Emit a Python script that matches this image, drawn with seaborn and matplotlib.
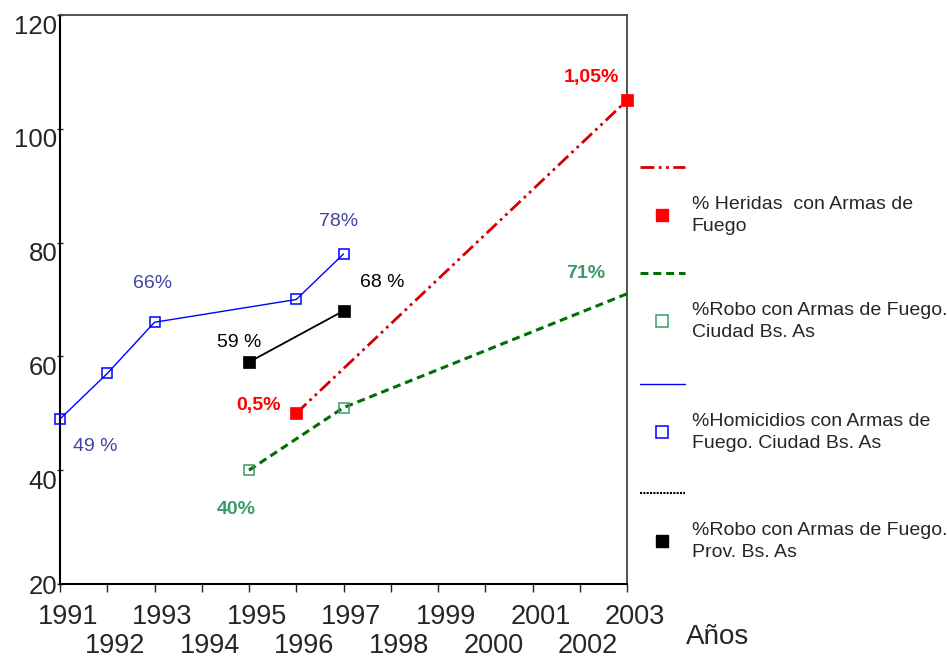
import matplotlib
matplotlib.use('Agg')
import matplotlib.pyplot as plt
import matplotlib.transforms as mtransforms
from matplotlib.lines import Line2D
import seaborn as sns

# Values
odd_years = [1991, 1993, 1995, 1997, 1999, 2001, 2003]
even_years = [1992, 1994, 1996, 1998, 2000, 2002]

homicidios_years = [1991, 1992, 1993, 1996, 1997]
homicidios_vals = [49, 57, 66, 70, 78]

robo_prov_years = [1995, 1997]
robo_prov_vals = [59, 68]

heridas_years = [1996, 2003]
heridas_vals = [50, 105]

robo_ciudad_years = [1995, 1997, 2003]
robo_ciudad_vals = [40, 51, 71]

yticks = [20, 40, 60, 80, 100, 120]

legend_labels = [
    '% Heridas  con Armas de\nFuego',
    '%Robo con Armas de Fuego.\nCiudad Bs. As',
    '%Homicidios con Armas de\nFuego. Ciudad Bs. As',
    '%Robo con Armas de Fuego.\nProv. Bs. As',
]

sns.set_style('white')
plt.rcParams['font.family'] = ['Liberation Sans', 'DejaVu Sans']

fig = plt.figure(figsize=(9.47, 6.62), dpi=100)
ax = fig.add_axes([60 / 947, 78 / 662, 567 / 947, 569 / 662])

BLUE = '#0000ff'
BLUE_TXT = '#4343a3'
RED = '#ff0000'
RED_LINE = '#d40000'
GREEN_LINE = '#006e00'
GREEN = '#3a9a68'

# Lines
sns.lineplot(x=homicidios_years, y=homicidios_vals, ax=ax, color=BLUE, linewidth=1.0,
             marker='s', markersize=7.5, markerfacecolor='none', markeredgecolor=BLUE,
             markeredgewidth=1.1, clip_on=False, zorder=3)
sns.lineplot(x=robo_prov_years, y=robo_prov_vals, ax=ax, color='black', linewidth=1.3,
             marker='s', markersize=8, markerfacecolor='black', markeredgecolor='black',
             markeredgewidth=0.5, clip_on=False, zorder=3)
sns.lineplot(x=heridas_years, y=heridas_vals, ax=ax, color=RED_LINE, linewidth=2.0,
             linestyle=(0, (5, 1.6, 1, 1.6, 1, 1.6)),
             marker='s', markersize=8.5, markerfacecolor=RED, markeredgecolor=RED,
             markeredgewidth=0.5, clip_on=False, zorder=3)
sns.lineplot(x=robo_ciudad_years, y=robo_ciudad_vals, ax=ax, color=GREEN_LINE, linewidth=2.2,
             linestyle=(0, (2.6, 1.6)), markevery=[0, 1],
             marker='s', markersize=7, markerfacecolor='none', markeredgecolor=GREEN,
             markeredgewidth=1.1, clip_on=False, zorder=3)

# Point labels
def label(x, y, text, dx, dy, color, weight='normal'):
    ax.annotate(text, xy=(x, y), xytext=(dx, dy), textcoords='offset pixels',
                ha='center', va='center', fontsize=14, color=color, fontweight=weight)

label(homicidios_years[0], homicidios_vals[0], '49 %', 35, -28, BLUE_TXT)
label(homicidios_years[2], homicidios_vals[2], '66%', -2, 39, BLUE_TXT)
label(homicidios_years[4], homicidios_vals[4], '78%', -5, 32, BLUE_TXT)
label(robo_prov_years[0], robo_prov_vals[0], '59 %', -10, 20, 'black')
label(robo_prov_years[1], robo_prov_vals[1], '68 %', 39, 28, 'black')
label(heridas_years[0], heridas_vals[0], '0,5%', -38, 8, RED, 'bold')
label(heridas_years[1], heridas_vals[1], '1,05%', -36, 23, RED, 'bold')
label(robo_ciudad_years[0], robo_ciudad_vals[0], '40%', -13, -39, GREEN, 'bold')
label(robo_ciudad_years[2], robo_ciudad_vals[2], '71%', -41, 20, GREEN, 'bold')

# Axes: odd years on the first row, even years on a second row
ax.set_xlim(1991, 2003)
ax.set_ylim(20, 120)
ax.set_xticks(odd_years, labels=[str(y) for y in odd_years])
ax.set_xticks(even_years, labels=[str(y) for y in even_years], minor=True)
ax.set_yticks(yticks, labels=[str(v) for v in yticks])
ax.tick_params(axis='x', which='both', direction='out', length=6, width=1,
               labelsize=19.5, bottom=True)
ax.tick_params(axis='x', which='major', pad=8.5)
ax.tick_params(axis='x', which='minor', pad=29.5)
ax.tick_params(axis='y', direction='inout', length=4, width=1, pad=0, labelsize=18.5, left=True)

shift_x = mtransforms.ScaledTranslation(8 / 100, 0, fig.dpi_scale_trans)
for t in ax.get_xticklabels() + ax.get_xticklabels(minor=True):
    t.set_transform(t.get_transform() + shift_x)
shift_y = mtransforms.ScaledTranslation(0, -9 / 100, fig.dpi_scale_trans)
for t in ax.get_yticklabels()[1:]:
    t.set_transform(t.get_transform() + shift_y)

for side in ['left', 'bottom']:
    ax.spines[side].set_color('black')
    ax.spines[side].set_linewidth(1.5)
for side in ['top', 'right']:
    ax.spines[side].set_color('#444444')
    ax.spines[side].set_linewidth(1.3)

ax.set_xlabel('Años', fontsize=20)
ax.xaxis.set_label_coords(1.16, -0.094)
ax.xaxis.label.set_va('center')

# Legend: line row, then marker + text row, for each series
legend_styles = [
    (dict(color=RED_LINE, lw=2.0, ls=(0, (5, 1.6, 1, 1.6, 1, 1.6))),
     dict(marker='s', markersize=9, markerfacecolor=RED, markeredgecolor=RED)),
    (dict(color=GREEN_LINE, lw=2.2, ls=(0, (2.6, 1.6))),
     dict(marker='s', markersize=8, markerfacecolor='none', markeredgecolor=GREEN, markeredgewidth=1.1)),
    (dict(color=BLUE, lw=1.0, ls='-'),
     dict(marker='s', markersize=8, markerfacecolor='none', markeredgecolor=BLUE, markeredgewidth=1.1)),
    (dict(color='black', lw=1.5, ls=(0, (1, 0.6))),
     dict(marker='s', markersize=9, markerfacecolor='black', markeredgecolor='black')),
]
legend_tops = [160, 266, 377, 486]
for (line_kw, mark_kw), text, top in zip(legend_styles, legend_labels, legend_tops):
    handles = [Line2D([], [], **line_kw), Line2D([], [], ls='none', **mark_kw)]
    leg = fig.legend(handles, ['', text], loc='upper left',
                     bbox_to_anchor=(640 / 947, 1 - top / 662),
                     frameon=False, fontsize=14, handlelength=2.3, handletextpad=0.35,
                     labelspacing=0.95, borderpad=0, borderaxespad=0)
    for t in leg.get_texts():
        t.set_linespacing(1.35)

plt.savefig('out.png', dpi=100)
plt.close()
